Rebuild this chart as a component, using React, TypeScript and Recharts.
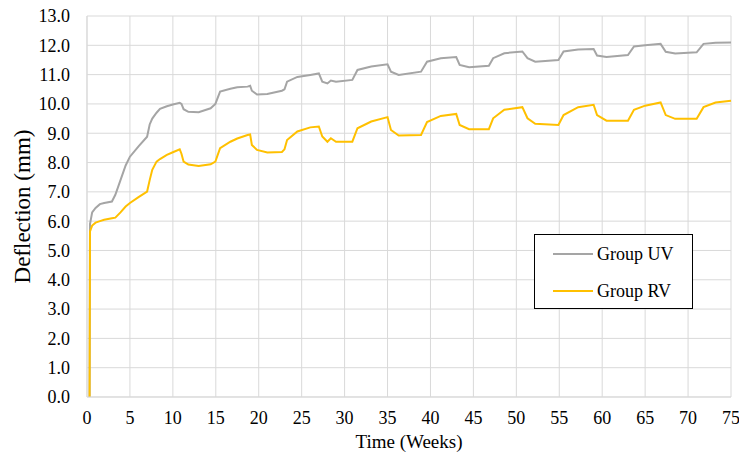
import React from "react";
import { LineChart, Line, XAxis, YAxis, CartesianGrid, Label } from "recharts";

const weeks = [
  0.3, 0.35, 0.6, 1.0, 1.5, 2.0, 2.9, 3.3, 3.9, 4.5, 5.0, 6.0, 7.0, 7.3, 7.6, 8.1, 8.5, 9.3, 10.0, 10.8,
  11.0, 11.25, 11.8, 13.0, 14.4, 14.95, 15.5, 16.7, 17.5, 18.7, 19.0, 19.2, 19.8, 21.0, 22.7, 23.0, 23.3,
  24.5, 26.0, 27.0, 27.4, 28.0, 28.4, 29.0, 30.9, 31.5, 33.1, 35.0, 35.4, 36.3, 38.9, 39.6, 41.2, 43.0,
  43.4, 44.5, 46.8, 47.3, 48.6, 50.7, 51.3, 52.2, 54.9, 55.5, 57.2, 59.0, 59.4, 60.5, 63.0, 63.7, 65.0,
  66.8, 67.4, 68.5, 71.0, 71.8, 73.2, 75.0,
];

const groupUV = [
  0, 5.9, 6.3, 6.45, 6.58, 6.62, 6.67, 6.9, 7.4, 7.9, 8.2, 8.55, 8.88, 9.3, 9.5, 9.7, 9.83, 9.92, 9.98, 10.04,
  10.0, 9.82, 9.73, 9.72, 9.85, 10.0, 10.42, 10.52, 10.57, 10.59, 10.62, 10.45, 10.32, 10.34, 10.45, 10.5, 10.76,
  10.92, 10.99, 11.04, 10.76, 10.7, 10.8, 10.76, 10.82, 11.16, 11.28, 11.35, 11.1, 10.99, 11.1, 11.44, 11.56, 11.6,
  11.33, 11.25, 11.3, 11.56, 11.73, 11.79, 11.56, 11.44, 11.5, 11.79, 11.86, 11.87, 11.65, 11.6, 11.67, 11.96, 12.0,
  12.05, 11.78, 11.72, 11.76, 12.05, 12.09, 12.1,
];

const groupRV = [
  0, 5.65, 5.85, 5.95, 6.0, 6.05, 6.1, 6.12, 6.3, 6.5, 6.62, 6.82, 7.01, 7.4, 7.75, 8.03, 8.12, 8.26, 8.35, 8.45,
  8.3, 8.03, 7.93, 7.88, 7.94, 8.03, 8.49, 8.71, 8.82, 8.94, 8.96, 8.6, 8.43, 8.34, 8.36, 8.45, 8.77,
  9.06, 9.2, 9.23, 8.89, 8.71, 8.83, 8.71, 8.71, 9.17, 9.4, 9.55, 9.11, 8.92, 8.94, 9.38, 9.59, 9.66,
  9.28, 9.14, 9.14, 9.51, 9.8, 9.89, 9.51, 9.32, 9.28, 9.62, 9.89, 9.97, 9.62, 9.43, 9.43, 9.8, 9.94,
  10.05, 9.62, 9.49, 9.49, 9.89, 10.05, 10.11,
];

const xTicks = [0, 5, 10, 15, 20, 25, 30, 35, 40, 45, 50, 55, 60, 65, 70, 75];
const yTicks = [0, 1, 2, 3, 4, 5, 6, 7, 8, 9, 10, 11, 12, 13];
const seriesNames = ["Group UV", "Group RV"];
const seriesColors = ["#A5A5A5", "#FFC000"];

const data = weeks.map((w, i) => ({ week: w, uv: groupUV[i], rv: groupRV[i] }));

const FONT = "'Liberation Serif', 'Times New Roman', serif";

const LegendBox = () => (
  <div
    style={{
      position: "absolute",
      left: 534,
      top: 234,
      border: "1px solid #000",
      background: "#fff",
      width: 157,
      height: 73,
      boxSizing: "content-box",
      fontFamily: FONT,
      fontSize: 18,
      color: "#000",
    }}
  >
    {seriesNames.map((n, i) => (
      <div
        key={n}
        style={{ display: "flex", alignItems: "center", height: 18, marginTop: i === 0 ? 10 : 19 }}
      >
        <div style={{ marginLeft: 18, width: 40, height: 2, background: seriesColors[i] }} />
        <span style={{ marginLeft: 4, lineHeight: "18px" }}>{n}</span>
      </div>
    ))}
  </div>
);

export default function App() {
  return (
    <div style={{ position: "absolute", left: 0, top: 0, width: 739, height: 454, background: "#fff" }}>
      <LineChart width={739} height={454} data={data} margin={{ top: 16, right: 8, bottom: 0, left: 0 }}>
        <CartesianGrid stroke="#D9D9D9" strokeWidth={1} />
        <XAxis
          dataKey="week"
          type="number"
          domain={[0, 75]}
          ticks={xTicks}
          interval={0}
          height={57}
          tickSize={0}
          tickMargin={14}
          axisLine={{ stroke: "#D9D9D9" }}
          tick={{ fill: "#000", fontSize: 18, fontFamily: FONT }}
        >
          <Label
            value="Time (Weeks)"
            position="insideBottom"
            offset={6}
            style={{ fill: "#000", fontSize: 19, fontFamily: FONT }}
          />
        </XAxis>
        <YAxis
          type="number"
          domain={[0, 13]}
          ticks={yTicks}
          interval={0}
          width={87}
          tickSize={0}
          tickMargin={17}
          axisLine={{ stroke: "#D9D9D9" }}
          tickFormatter={(v: number) => v.toFixed(1)}
          tick={{ fill: "#000", fontSize: 18, fontFamily: FONT }}
        >
          <Label
            value="Deflection (mm)"
            angle={-90}
            position="center"
            dx={-22}
            style={{ fill: "#000", fontSize: 23, fontFamily: FONT, textAnchor: "middle" }}
          />
        </YAxis>
        <Line
          type="linear"
          dataKey="uv"
          name={seriesNames[0]}
          stroke={seriesColors[0]}
          strokeWidth={2}
          dot={false}
          isAnimationActive={false}
        />
        <Line
          type="linear"
          dataKey="rv"
          name={seriesNames[1]}
          stroke={seriesColors[1]}
          strokeWidth={2}
          dot={false}
          isAnimationActive={false}
        />
      </LineChart>
      <LegendBox />
    </div>
  );
}
